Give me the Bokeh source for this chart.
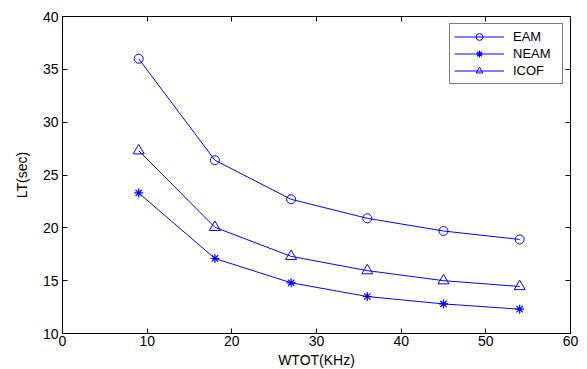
from bokeh.plotting import figure
from bokeh.models import LinearAxis, Range1d, FixedTicker, Legend, LegendItem
from bokeh.embed import file_html
from bokeh.resources import INLINE

# data
wtot = [9, 18, 27, 36, 45, 54]
eam = [36.0, 26.4, 22.7, 20.9, 19.7, 18.9]
neam = [23.3, 17.1, 14.8, 13.5, 12.8, 12.3]
icof = [27.3, 20.05, 17.3, 15.95, 15.0, 14.45]
x_ticks = [0, 10, 20, 30, 40, 50, 60]
y_ticks = [10, 15, 20, 25, 30, 35, 40]

FONT = "Liberation Sans"
FS = "14px"
BLUE = "#0000FF"

p = figure(frame_width=508, frame_height=317, output_backend="svg", toolbar_location=None,
           x_range=Range1d(0, 60), y_range=Range1d(10, 40),
           x_axis_label="WTOT(KHz)", y_axis_label="LT(sec)")
p.min_border_left = 62
p.min_border_right = 16
p.min_border_top = 16
p.min_border_bottom = 36
p.xgrid.visible = False
p.ygrid.visible = False
p.outline_line_color = "black"
p.outline_line_width = 1
p.background_fill_color = "white"
p.border_fill_color = "white"

def style(ax, ticks, labels=True):
    ax.ticker = FixedTicker(ticks=ticks)
    ax.major_tick_in = 5
    ax.major_tick_out = 0
    ax.minor_tick_in = 0
    ax.minor_tick_out = 0
    ax.axis_line_color = "black"
    ax.major_tick_line_color = "black"
    ax.major_label_text_font = FONT
    ax.major_label_text_font_size = FS if labels else "1px"
    ax.major_label_text_color = "black" if labels else None
    ax.axis_label_text_font = FONT
    ax.axis_label_text_font_size = FS
    ax.axis_label_text_font_style = "normal"
    ax.axis_label_text_color = "black"

style(p.xaxis[0], x_ticks)
style(p.yaxis[0], y_ticks)
p.xaxis[0].major_label_standoff = 2
p.xaxis[0].axis_label_standoff = 3
p.yaxis[0].major_label_standoff = 4
p.yaxis[0].axis_label_standoff = 10

top = LinearAxis()
style(top, x_ticks, labels=False)
top.major_label_standoff = 0
right = LinearAxis()
style(right, y_ticks, labels=False)
right.major_label_standoff = 0
p.add_layout(top, "above")
p.add_layout(right, "right")

l1 = p.line(wtot, eam, line_color=BLUE, line_width=1)
m1 = p.scatter(wtot, eam, marker="circle", size=9, fill_color=None, line_color=BLUE, line_width=1)
l2 = p.line(wtot, neam, line_color=BLUE, line_width=1)
m2 = p.scatter(wtot, neam, marker="asterisk", size=9, fill_color=None, line_color=BLUE, line_width=1.2)
l3 = p.line(wtot, icof, line_color=BLUE, line_width=1)
m3 = p.scatter(wtot, icof, marker="triangle", size=11, fill_color=None, line_color=BLUE, line_width=1)

legend = Legend(items=[LegendItem(label="EAM", renderers=[l1, m1]),
                       LegendItem(label="NEAM", renderers=[l2, m2]),
                       LegendItem(label="ICOF", renderers=[l3, m3])],
                location="top_right")
legend.margin = 7
legend.padding = 4
legend.spacing = 0
legend.glyph_width = 50
legend.glyph_height = 17
legend.label_standoff = 9
legend.label_width = 45
legend.label_height = 13
legend.label_text_font = FONT
legend.label_text_font_size = "13px"
legend.label_text_color = "black"
legend.border_line_color = "black"
legend.border_line_width = 1
legend.background_fill_color = "white"
legend.background_fill_alpha = 1
p.add_layout(legend)

open("out.html", "w").write(file_html(p, INLINE))
